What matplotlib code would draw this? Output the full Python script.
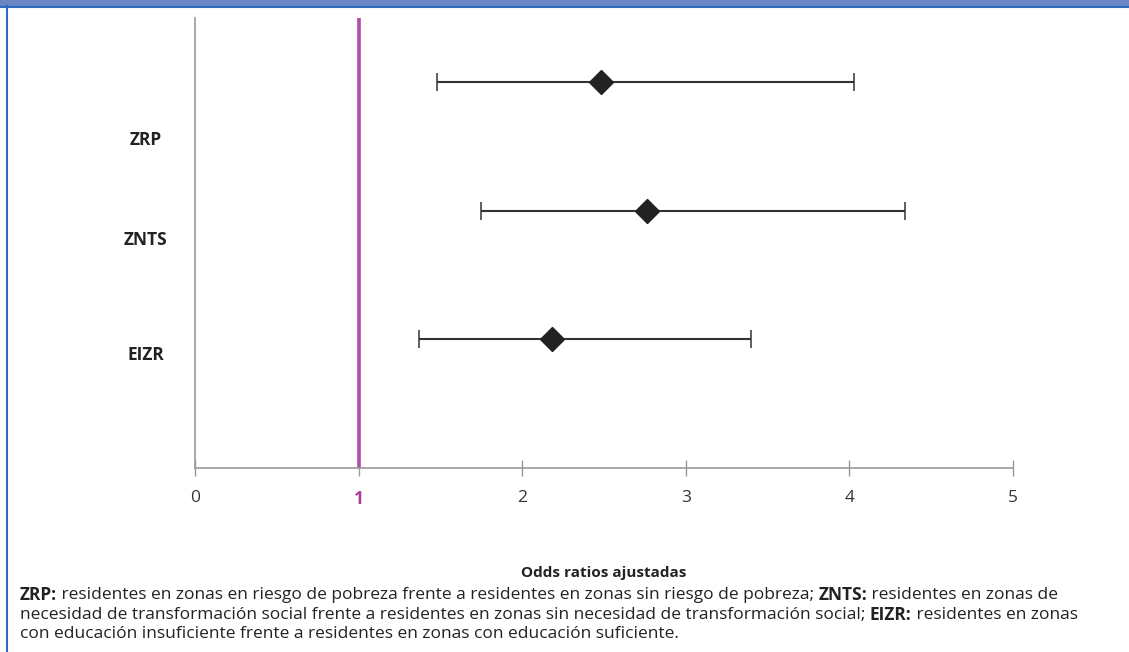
import matplotlib.pyplot as plt
from matplotlib.lines import Line2D
from matplotlib.patches import Rectangle
from matplotlib.transforms import blended_transform_factory, ScaledTranslation

plt.rcParams['font.family'] = ['Open Sans', 'DejaVu Sans']

# Data
groups = ["ZRP", "ZNTS", "EIZR"]
odds = [2.48, 2.76, 2.18]
ci_low = [1.48, 1.75, 1.37]
ci_high = [4.03, 4.34, 3.40]
ypos = [3, 2, 1]
label_ypos = [2.55, 1.77, 0.88]
xticks = [0, 1, 2, 3, 4, 5]

W, H = 1129, 652
fig = plt.figure(figsize=(W / 100, H / 100), dpi=100)
ax = fig.add_axes([195 / W, 1 - 468 / H, (1013 - 195) / W, (468 - 18) / H])

err_lo = [o - l for o, l in zip(odds, ci_low)]
err_hi = [h - o for o, h in zip(odds, ci_high)]
ax.errorbar(odds, ypos, xerr=[err_lo, err_hi], fmt='D', color='#222222',
            ecolor='#333333', elinewidth=1.5, capsize=6.5, capthick=1.1,
            markersize=12.5, zorder=3)

# reference line at OR = 1
ax.axvline(1, color='#b04da8', lw=2.6, zorder=2)

ax.set_xlim(0, 5)
ax.set_ylim(0, 3.5)
ax.set_xticks(xticks)
ax.set_xticklabels([str(t) for t in xticks], fontsize=12.5, color='#333333')
one = ax.get_xticklabels()[1]
one.set_color('#a8409a')
one.set_fontweight('bold')
one.set_transform(one.get_transform() + ScaledTranslation(0, 2 / 72, fig.dpi_scale_trans))
ax.set_yticks([])
ax.tick_params(axis='x', direction='inout', length=11, width=1, color='#999999', pad=10)
for s in ['top', 'right']:
    ax.spines[s].set_visible(False)
for s in ['left', 'bottom']:
    ax.spines[s].set_color('#999999')
    ax.spines[s].set_linewidth(1.2)

ax.set_xlabel("Odds ratios ajustadas", fontsize=11, fontweight='bold',
              color='#222222', labelpad=42)

# group labels, x in figure coords
lbl_tr = blended_transform_factory(fig.transFigure, ax.transData)
for g, y in zip(groups, label_ypos):
    ax.text(146 / W, y, g, transform=lbl_tr, fontsize=12.5,
            fontweight='bold', color='#222222', ha='center', va='center')

# top band and left border
fig.patches.append(Rectangle((0, 1 - 6 / H), 1, 6 / H, transform=fig.transFigure,
                             facecolor='#6b86c4', edgecolor='none', zorder=0))
fig.lines.append(Line2D([0, 1], [1 - 6.5 / H, 1 - 6.5 / H], transform=fig.transFigure,
                        color='#2e6bbf', lw=1.5))
fig.lines.append(Line2D([6.5 / W, 6.5 / W], [0, 1 - 6 / H], transform=fig.transFigure,
                        color='#2e6bbf', lw=1.5))

# footnote with bold abbreviations
foot = [
    [("ZRP:", True), (" residentes en zonas en riesgo de pobreza frente a residentes en zonas sin riesgo de pobreza; ", False),
     ("ZNTS:", True), (" residentes en zonas de", False)],
    [("necesidad de transformación social frente a residentes en zonas sin necesidad de transformación social; ", False),
     ("EIZR:", True), (" residentes en zonas", False)],
    [("con educación insuficiente frente a residentes en zonas con educación suficiente.", False)],
]
renderer = fig.canvas.get_renderer()
line_y = [595, 615, 634]
for parts, yp in zip(foot, line_y):
    x = 20
    for txt, bold in parts:
        t = fig.text(x / W, 1 - yp / H, txt, fontsize=12.5, color='#222222',
                     fontweight='bold' if bold else 'normal', va='center', ha='left')
        x += t.get_window_extent(renderer=renderer).width

fig.savefig("out.png", dpi=100, facecolor='white')
